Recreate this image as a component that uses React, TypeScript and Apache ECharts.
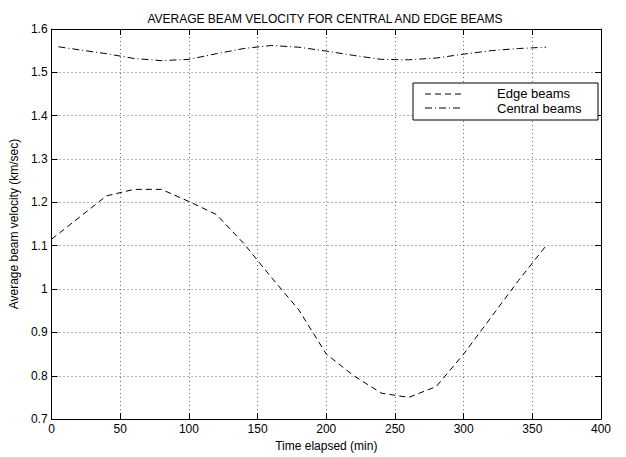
import React, { useEffect, useRef } from "react";
import * as echarts from "echarts";

const titleText = "AVERAGE BEAM VELOCITY FOR CENTRAL AND EDGE BEAMS";
const xAxisName = "Time elapsed (min)";
const yAxisName = "Average beam velocity (km/sec)";
const legendNames = ["Edge beams", "Central beams"];

const edgeTimes = [0, 20, 40, 60, 80, 100, 120, 140, 160, 180, 200, 220, 240, 260, 280, 300, 320, 340, 360];
const edgeValues = [1.115, 1.165, 1.215, 1.23, 1.23, 1.202, 1.172, 1.105, 1.027, 0.952, 0.85, 0.8, 0.76, 0.75, 0.775, 0.85, 0.935, 1.02, 1.1];

const centralTimes = [5, 20, 40, 60, 80, 100, 120, 140, 160, 180, 200, 220, 240, 260, 280, 300, 320, 340, 360];
const centralValues = [1.559, 1.552, 1.543, 1.532, 1.527, 1.53, 1.543, 1.555, 1.562, 1.558, 1.549, 1.539, 1.53, 1.529, 1.533, 1.542, 1.55, 1.555, 1.558];

const FONT = "'Liberation Sans', Arial, Helvetica, sans-serif";

export default function App() {
  const ref = useRef<HTMLDivElement>(null);
  useEffect(() => {
    if (!ref.current) return;
    const chart = echarts.init(ref.current, null, { renderer: "svg" });
    const axisLine = { show: true, onZero: false, lineStyle: { color: "#000", width: 1 } };
    const axisTick = { show: true, inside: true, length: 6, lineStyle: { color: "#000", width: 1 } };
    const gridLine = { show: true, lineStyle: { color: "#666", width: 1, type: [1, 3] as any } };
    const labelStyle = { color: "#000", fontSize: 12, fontFamily: FONT };
    chart.setOption({
      animation: false,
      backgroundColor: "#fff",
      grid: { left: 49, right: 25, top: 29, bottom: 29, containLabel: false },
      xAxis: [
        {
          type: "value", min: 0, max: 400, interval: 50, position: "bottom",
          axisLine, axisTick, axisLabel: { ...labelStyle, margin: 4 },
          splitLine: gridLine,
          name: xAxisName, nameLocation: "middle", nameGap: 16,
          nameTextStyle: { color: "#000", fontSize: 12, fontFamily: FONT },
        },
        {
          type: "value", min: 0, max: 400, interval: 50, position: "top",
          axisLine, axisTick, axisLabel: { show: false }, splitLine: { show: false },
        },
      ],
      yAxis: [
        {
          type: "value", min: 0.7, max: 1.6, interval: 0.1, position: "left",
          axisLine, axisTick, axisLabel: { ...labelStyle, margin: 4 },
          splitLine: gridLine,
          name: yAxisName, nameLocation: "middle", nameGap: 22, nameRotate: 90,
          nameTextStyle: { color: "#000", fontSize: 12, fontFamily: FONT },
        },
        {
          type: "value", min: 0.7, max: 1.6, interval: 0.1, position: "right",
          axisLine, axisTick, axisLabel: { show: false }, splitLine: { show: false },
        },
      ],
      series: [
        {
          name: legendNames[0], type: "line", symbol: "none", xAxisIndex: 0, yAxisIndex: 0,
          data: edgeTimes.map((t, i) => [t, edgeValues[i]]),
          lineStyle: { color: "#000", width: 1, type: [6, 4] as any },
        },
        {
          name: legendNames[1], type: "line", symbol: "none", xAxisIndex: 0, yAxisIndex: 0,
          data: centralTimes.map((t, i) => [t, centralValues[i]]),
          lineStyle: { color: "#000", width: 1, type: [7, 3, 1, 3] as any },
        },
      ],
      graphic: [
        {
          type: "text", x: 325, y: 19,
          style: { text: titleText, fontSize: 12, fontFamily: FONT, fill: "#000", align: "center", verticalAlign: "middle" },
        },
        {
          type: "rect", shape: { x: 413, y: 83, width: 185, height: 37 },
          style: { fill: "#fff", stroke: "#000", lineWidth: 1 }, z: 10,
        },
        {
          type: "line", shape: { x1: 425, y1: 94, x2: 462, y2: 94 },
          style: { stroke: "#000", lineWidth: 1, lineDash: [6, 4] }, z: 11,
        },
        {
          type: "line", shape: { x1: 425, y1: 108, x2: 462, y2: 108 },
          style: { stroke: "#000", lineWidth: 1, lineDash: [7, 3, 1, 3] }, z: 11,
        },
        {
          type: "text", x: 497, y: 93.5, z: 11,
          style: { text: legendNames[0], fontSize: 13, fontFamily: FONT, fill: "#000", align: "left", verticalAlign: "middle" },
        },
        {
          type: "text", x: 497, y: 108.5, z: 11,
          style: { text: legendNames[1], fontSize: 13, fontFamily: FONT, fill: "#000", align: "left", verticalAlign: "middle" },
        },
      ],
    });
    return () => chart.dispose();
  }, []);
  return <div ref={ref} style={{ position: "absolute", left: 0, top: 0, width: 626, height: 457 }} />;
}
